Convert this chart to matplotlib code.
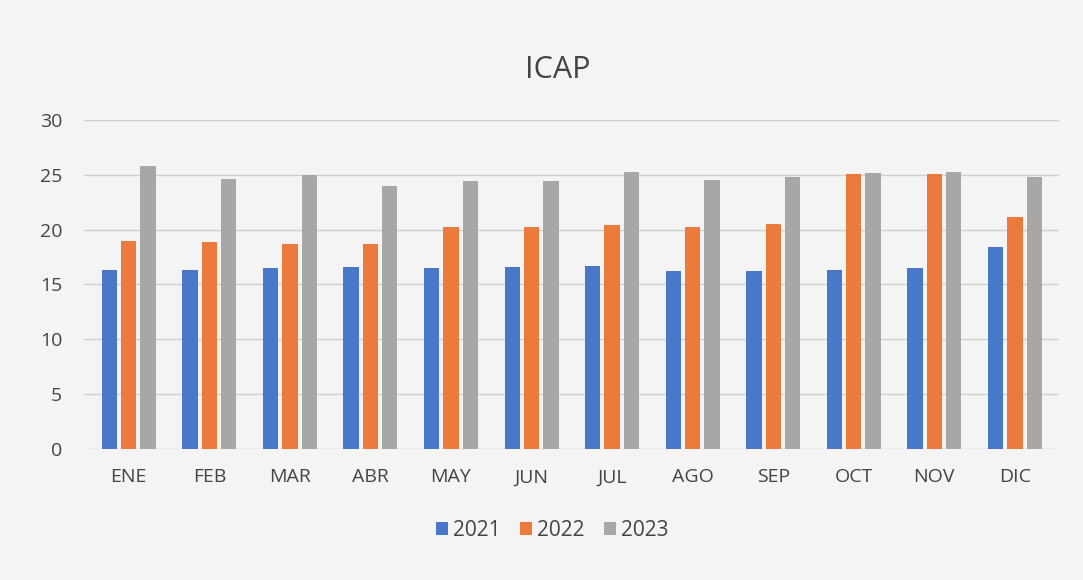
import matplotlib
matplotlib.use("Agg")
import matplotlib.pyplot as plt
import numpy as np

# data
meses = ['ENE', 'FEB', 'MAR', 'ABR', 'MAY', 'JUN', 'JUL', 'AGO', 'SEP', 'OCT', 'NOV', 'DIC']
icap_2021 = [16.3, 16.3, 16.5, 16.6, 16.5, 16.6, 16.7, 16.2, 16.2, 16.3, 16.5, 18.4]
icap_2022 = [19.0, 18.9, 18.7, 18.7, 20.2, 20.2, 20.4, 20.2, 20.5, 25.1, 25.1, 21.2]
icap_2023 = [25.8, 24.6, 25.0, 24.0, 24.4, 24.4, 25.3, 24.5, 24.8, 25.2, 25.3, 24.8]
series = ['2021', '2022', '2023']
colores = ['#4a78c8', '#ec7a3c', '#a9a7a5']

plt.rcParams['font.family'] = ['Open Sans', 'DejaVu Sans']

fig = plt.figure(figsize=(10.83, 5.8), dpi=100, facecolor='#f4f4f4')
ax = fig.add_axes([0.078, 0.226, 0.9, 0.567])
ax.set_facecolor('#f4f4f4')

x = np.arange(len(meses))
ancho = 0.19
for i, (vals, nombre, c) in enumerate(zip([icap_2021, icap_2022, icap_2023], series, colores)):
    ax.bar(x + (i - 1) * 0.24, vals, ancho, color=c, label=nombre, zorder=3)

ax.set_ylim(0, 30)
ax.set_xlim(-0.55, len(meses) - 0.45)
ax.set_yticks(range(0, 31, 5))
ax.set_xticks(x)
ax.set_xticklabels(meses)
ax.yaxis.grid(True, color='#cfcfcf', linewidth=1, zorder=0)
for s in ax.spines.values():
    s.set_visible(False)
ax.tick_params(axis='both', length=0, labelsize=14, colors='#444444')
ax.tick_params(axis='x', pad=14)
ax.tick_params(axis='y', pad=16)

fig.text(0.515, 0.88, 'ICAP', ha='center', va='center', fontsize=22, color='#444444')

fig.legend(loc='center', bbox_to_anchor=(0.51, 0.085), ncol=3, frameon=False,
           fontsize=15, handlelength=0.6, handleheight=0.6, handletextpad=0.25,
           columnspacing=0.9, labelcolor='#444444')

fig.savefig('out.png', dpi=100, facecolor=fig.get_facecolor())
